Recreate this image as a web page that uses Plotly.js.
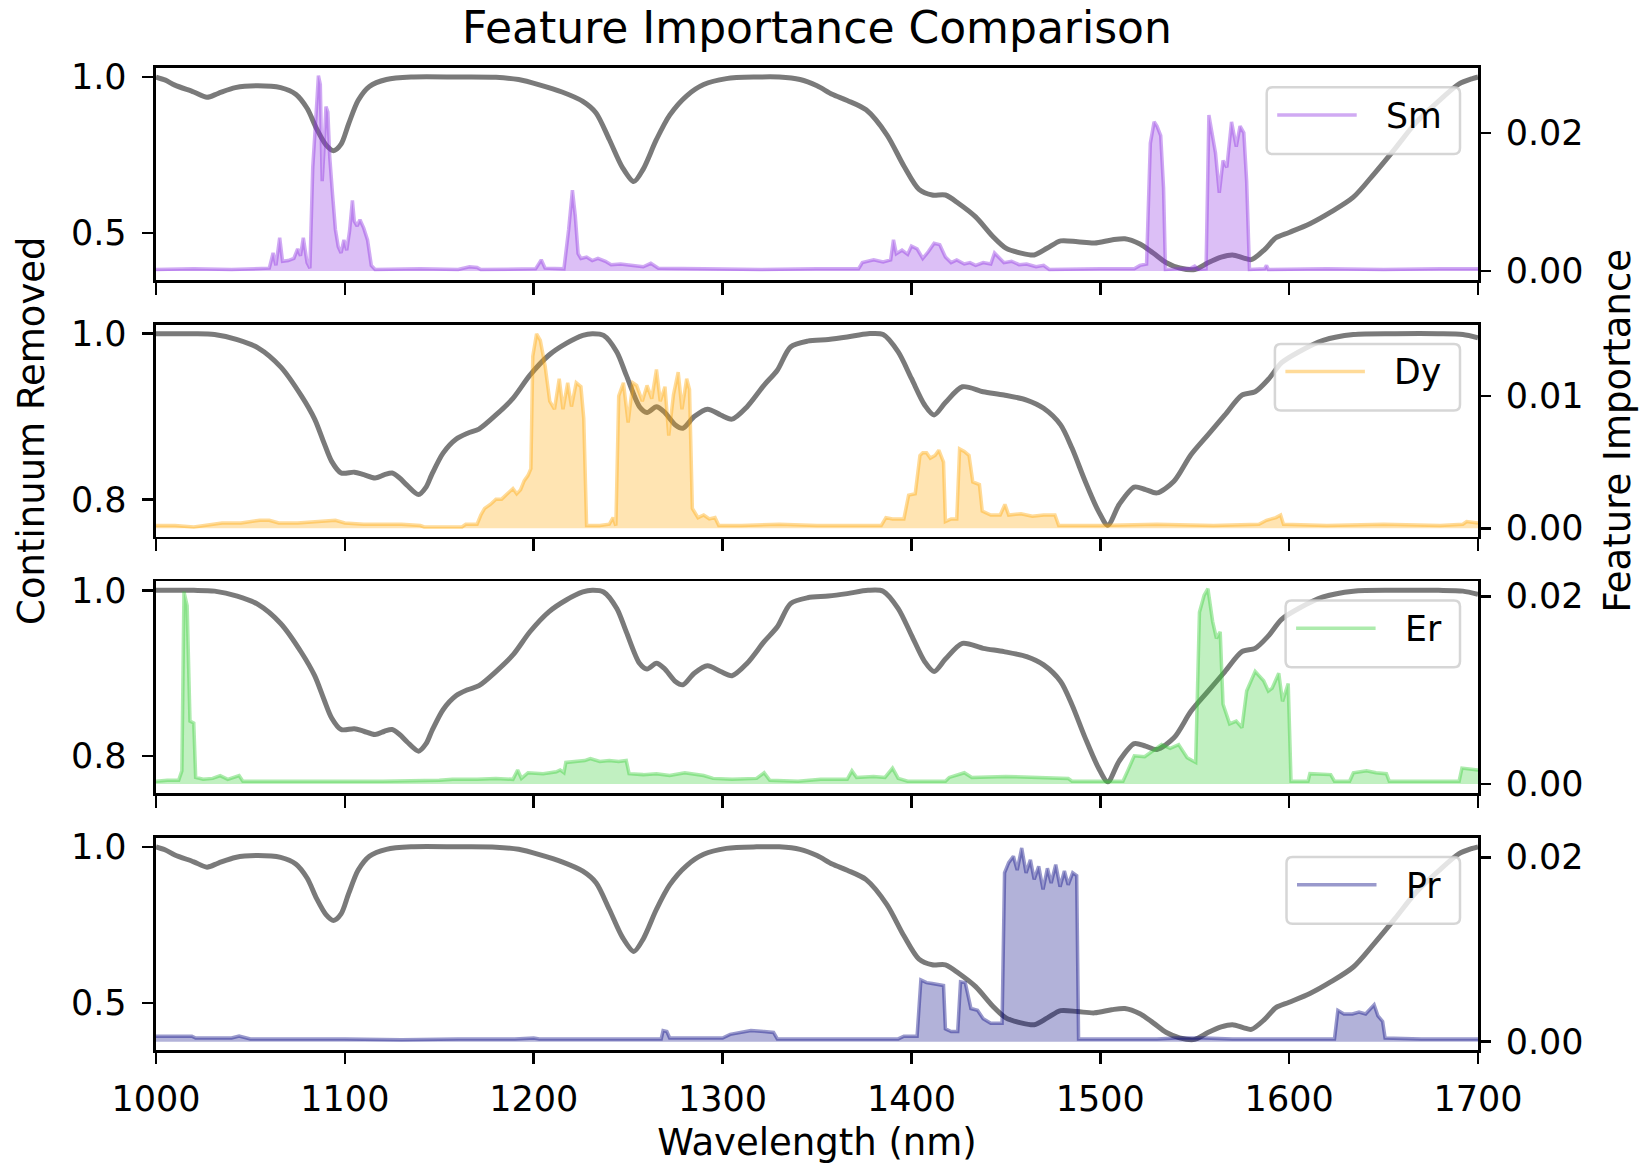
<!DOCTYPE html>
<html>
<head>
<meta charset="utf-8">
<script src="https://cdn.plot.ly/plotly-3.0.1.min.js"></script>
<style>html,body{margin:0;padding:0;background:#fff}#chart{width:1642px;height:1164px}</style>
</head>
<body>
<div id="chart"></div>
<script>
// ---------------- data ----------------
const elements = ['Sm', 'Dy', 'Er', 'Pr'];
const wavelengthTicks = [1000, 1100, 1200, 1300, 1400, 1500, 1600, 1700];

// continuum-removed reference spectrum used with Sm and Pr
const contAWave = [1000,1005,1010,1020,1027,1033,1042,1054,1066,1074,1080,1085,1090,1094,1098,1102,1107,1113,1122,1135,1160,1180,1192,1203,1215,1226,1233,1240,1247,1253,1258,1265,1272,1281,1290,1302,1318,1330,1341,1350,1358,1366,1376,1387,1396,1404,1411,1418,1425,1434,1443,1450,1458,1465,1472,1479,1488,1497,1506,1513,1521,1528,1535,1542,1550,1557,1564,1570,1576,1580,1587,1593,1600,1611,1622,1634,1645,1656,1667,1679,1690,1697,1700];
const contAValue = [1.000,0.990,0.974,0.952,0.935,0.948,0.966,0.972,0.966,0.945,0.900,0.835,0.783,0.764,0.785,0.850,0.925,0.970,0.992,1.000,1.000,0.999,0.992,0.975,0.952,0.922,0.885,0.800,0.710,0.665,0.705,0.800,0.878,0.940,0.976,0.995,1.000,1.000,0.992,0.972,0.945,0.925,0.895,0.815,0.715,0.640,0.622,0.622,0.595,0.552,0.490,0.452,0.436,0.430,0.452,0.475,0.472,0.468,0.478,0.482,0.465,0.436,0.405,0.388,0.383,0.405,0.423,0.430,0.420,0.415,0.447,0.485,0.502,0.530,0.567,0.615,0.690,0.770,0.853,0.922,0.978,0.995,1.000];

// continuum-removed reference spectrum used with Dy and Er
const contBWave = [1000,1020,1031,1043,1054,1066,1077,1084,1089,1093,1098,1105,1110,1116,1121,1125,1129,1133,1139,1143,1146,1152,1159,1165,1171,1180,1189,1198,1208,1217,1226,1231,1237,1244,1249,1256,1260,1265,1269,1275,1279,1285,1292,1299,1305,1313,1322,1329,1336,1345,1356,1366,1377,1385,1393,1400,1407,1412,1418,1427,1438,1449,1461,1470,1479,1485,1492,1499,1504,1510,1518,1524,1530,1539,1548,1557,1566,1575,1582,1589,1596,1605,1618,1634,1656,1679,1692,1700];
const contBValue = [1.000,1.000,0.999,0.993,0.983,0.960,0.925,0.897,0.868,0.846,0.832,0.833,0.830,0.826,0.830,0.832,0.826,0.817,0.806,0.815,0.830,0.856,0.873,0.880,0.885,0.902,0.922,0.950,0.974,0.988,0.998,1.000,0.998,0.978,0.950,0.912,0.905,0.912,0.906,0.890,0.886,0.900,0.909,0.902,0.897,0.912,0.938,0.956,0.984,0.991,0.993,0.996,1.000,0.999,0.978,0.946,0.914,0.902,0.917,0.936,0.930,0.926,0.920,0.910,0.890,0.862,0.822,0.786,0.769,0.794,0.815,0.812,0.808,0.822,0.854,0.878,0.902,0.926,0.930,0.945,0.965,0.978,0.992,0.999,1.000,1.000,0.999,0.995];

// feature importance per element
const smWave = [1000,1020,1040,1055,1060,1062,1063.5,1065.5,1067,1070,1073,1075,1076.5,1078,1080,1081.5,1083,1084.5,1086,1087,1088,1089,1090,1091,1092,1093.5,1095,1096.5,1098,1099.5,1101,1102.5,1104,1105,1106.5,1108,1110,1112,1114,1116,1140,1160,1166,1170,1172,1201,1204,1206,1216,1218.5,1220.5,1222,1223.5,1225,1228,1231,1234,1238,1241,1246,1252,1258,1262,1266,1290,1320,1350,1372,1374,1380,1385,1389,1390.5,1392,1395,1398,1400,1403,1406,1409,1412,1415,1418,1421,1424,1428,1431,1434,1438,1442,1444,1446,1449,1453,1457,1461,1466,1470,1473,1500,1518,1521,1524.5,1526.5,1527.5,1528.5,1530,1532,1533.5,1534.5,1548,1550,1552,1556,1557.5,1559,1561,1563,1565,1567,1569.5,1572,1574,1576,1577.5,1579,1587,1588,1589,1620,1650,1680,1700];
const smImp = [0.0002,0.0003,0.0002,0.0003,0.0004,0.0026,0.0008,0.0048,0.0014,0.0015,0.0018,0.0032,0.0022,0.0048,0.0012,0.0004,0.0150,0.0215,0.0283,0.0270,0.0130,0.0180,0.0238,0.0230,0.0165,0.0110,0.0060,0.0035,0.0026,0.0045,0.0030,0.0058,0.0102,0.0072,0.0065,0.0074,0.0062,0.0045,0.0008,0.0002,0.0003,0.0002,0.0006,0.0005,0.0002,0.0003,0.0016,0.0004,0.0003,0.0060,0.0117,0.0080,0.0025,0.0018,0.0020,0.0015,0.0018,0.0014,0.0009,0.0010,0.0008,0.0006,0.0011,0.0004,0.0003,0.0002,0.0003,0.0003,0.0012,0.0016,0.0013,0.0016,0.0045,0.0025,0.0030,0.0024,0.0036,0.0032,0.0018,0.0028,0.0040,0.0038,0.0020,0.0012,0.0016,0.0010,0.0012,0.0008,0.0012,0.0010,0.0026,0.0020,0.0012,0.0014,0.0009,0.0010,0.0006,0.0008,0.0002,0.0003,0.0003,0.0008,0.0010,0.0185,0.0200,0.0216,0.0210,0.0196,0.0120,0.0002,0.0004,0.0007,0.0002,0.0003,0.0226,0.0200,0.0171,0.0113,0.0160,0.0150,0.0216,0.0180,0.0210,0.0200,0.0130,0.0002,0.0003,0.0008,0.0002,0.0003,0.0002,0.0003,0.0003];

const dyWave = [1000,1010,1020,1030,1035,1045,1055,1060,1065,1075,1085,1095,1100,1110,1120,1130,1140,1142,1162,1164,1170,1172,1174,1177,1180,1183,1186,1189,1191,1193,1195,1197,1198.5,1199.5,1201.5,1203.5,1206,1208.5,1211,1213.5,1215.5,1218,1220,1222.5,1225,1226.5,1228,1235,1240,1242,1243.5,1245,1247.5,1250,1252.5,1254.5,1257.5,1260,1262.5,1265,1267,1269.5,1271.5,1274,1276.5,1278.5,1281,1282.5,1284,1287,1290,1293,1296,1298,1310,1330,1350,1370,1384,1386.5,1390,1396,1398.5,1402,1404.5,1406,1408,1410,1412.5,1414.5,1417,1418,1421,1424,1425.5,1428,1430.5,1432.5,1436,1437.5,1442,1447,1449.5,1451.5,1458,1464,1470,1476,1478,1500,1530,1560,1584,1588,1593,1595.5,1597,1620,1650,1680,1692,1694,1700];
const dyImp = [0.0002,0.0002,0.0001,0.0003,0.0004,0.0004,0.0006,0.0006,0.0004,0.0004,0.0005,0.0006,0.0004,0.0003,0.0003,0.0003,0.0002,0.0001,0.0001,0.0003,0.0003,0.0010,0.0015,0.0018,0.0022,0.0022,0.0026,0.0030,0.0026,0.0029,0.0036,0.0040,0.0045,0.0130,0.0147,0.0142,0.0123,0.0096,0.0090,0.0113,0.0090,0.0110,0.0092,0.0110,0.0107,0.0083,0.0002,0.0002,0.0003,0.0008,0.0002,0.0100,0.0110,0.0080,0.0110,0.0108,0.0096,0.0108,0.0098,0.0120,0.0096,0.0107,0.0070,0.0101,0.0118,0.0090,0.0113,0.0105,0.0015,0.0008,0.0010,0.0007,0.0008,0.0002,0.0002,0.0003,0.0002,0.0002,0.0002,0.0008,0.0007,0.0007,0.0025,0.0026,0.0055,0.0057,0.0057,0.0053,0.0055,0.0059,0.0050,0.0005,0.0007,0.0007,0.0060,0.0058,0.0055,0.0035,0.0033,0.0013,0.0010,0.0010,0.0018,0.0010,0.0011,0.0009,0.0010,0.0010,0.0002,0.0002,0.0003,0.0002,0.0003,0.0006,0.0008,0.0010,0.0003,0.0002,0.0003,0.0002,0.0003,0.0005,0.0004];

const erWave = [1000,1006,1012,1013.7,1014.8,1016.5,1018,1020,1021,1025,1030,1034,1038,1044,1046,1080,1120,1150,1157,1170,1180,1189,1191.5,1193.5,1197,1205,1212,1214,1216,1217,1222,1227,1230,1235,1240,1245,1249,1250.5,1258,1265,1272,1280,1290,1295,1305,1318,1322,1325,1340,1352,1366,1368.5,1371,1380,1386,1390,1393,1398,1418,1420,1428,1432,1450,1465,1483,1485,1512,1514.5,1518,1523.5,1528,1532.5,1537,1541.5,1546,1550.5,1552.5,1555,1557,1559.5,1561.5,1563.5,1565,1568.5,1572,1575,1577.5,1582,1586.5,1589,1591,1594.5,1596.5,1599.5,1601,1610,1611,1622,1624,1632,1634,1641,1646,1651.5,1653,1690,1691.5,1700];
const erImp = [0.0003,0.0004,0.0004,0.0014,0.0205,0.0190,0.0067,0.0065,0.0007,0.0005,0.0006,0.0009,0.0005,0.0009,0.0003,0.0003,0.0003,0.0004,0.0005,0.0005,0.0006,0.0005,0.0015,0.0006,0.0012,0.0011,0.0013,0.0015,0.0012,0.0023,0.0024,0.0025,0.0027,0.0024,0.0025,0.0024,0.0025,0.0011,0.0010,0.0011,0.0009,0.0012,0.0009,0.0006,0.0005,0.0006,0.0012,0.0004,0.0003,0.0005,0.0005,0.0014,0.0007,0.0008,0.0007,0.0017,0.0006,0.0003,0.0003,0.0007,0.0012,0.0007,0.0008,0.0007,0.0006,0.0003,0.0003,0.0014,0.0030,0.0029,0.0035,0.0042,0.0038,0.0042,0.0028,0.0023,0.0183,0.0201,0.0208,0.0173,0.0155,0.0162,0.0085,0.0064,0.0067,0.0060,0.0099,0.0120,0.0110,0.0099,0.0102,0.0118,0.0088,0.0107,0.0003,0.0003,0.0011,0.0010,0.0003,0.0003,0.0012,0.0014,0.0012,0.0011,0.0003,0.0003,0.0017,0.0015];

const prWave = [1000,1010,1019,1021,1030,1040,1044,1048,1050,1100,1130,1160,1190,1200,1203,1240,1267.5,1268.5,1270.5,1272,1300,1304,1310,1315,1322,1327,1329,1360,1393,1396,1403,1405,1408,1411,1414.5,1417,1418,1421,1424.5,1426,1428.5,1431.5,1435,1438,1442,1448,1449.3,1451.5,1454,1456,1458.4,1460.7,1463,1465,1467.4,1469.7,1472,1474,1476.4,1478.7,1481,1483,1485.4,1487.5,1488.5,1500,1530,1540,1555,1570,1600,1624,1625.8,1629,1633.5,1637,1640.5,1645,1647,1649.5,1650.8,1670,1700];
const prImp = [0.0006,0.0006,0.0006,0.0004,0.0004,0.0004,0.0006,0.0004,0.0003,0.0003,0.0002,0.0003,0.0003,0.0004,0.0003,0.0003,0.0003,0.0012,0.0011,0.0004,0.0004,0.0008,0.0010,0.0012,0.0011,0.0010,0.0003,0.0003,0.0003,0.0006,0.0006,0.0067,0.0064,0.0063,0.0062,0.0061,0.0014,0.0011,0.0011,0.0065,0.0064,0.0036,0.0034,0.0025,0.0020,0.0020,0.0183,0.0194,0.0201,0.0186,0.0210,0.0183,0.0197,0.0176,0.0190,0.0165,0.0188,0.0172,0.0192,0.0168,0.0185,0.0170,0.0183,0.0180,0.0003,0.0003,0.0003,0.0004,0.0004,0.0003,0.0003,0.0003,0.0034,0.0030,0.0030,0.0032,0.0030,0.0040,0.0028,0.0022,0.0004,0.0003,0.0003];

// ---------------- styling / layout ----------------
const W = 1642, H = 1164, ML = 156, MR = 164, MT = 68, MB = 113.6;
const PW = W - ML - MR, PH = H - MT - MB;
const px2x = p => (p - ML) / PW;
const py2y = p => (H - MB - p) / PH;
const panelTops = [68, 324.7, 581.4, 838.1];
const panelH = 212.3;
const FONT = 'DejaVu Sans, Liberation Sans, sans-serif';
const FS = 35;      // tick labels
const FSA = 37;     // axis titles
const FSL = 34.7;   // legend labels

const panels = [
  {wave: smWave, imp: smImp, cw: contAWave, cv: contAValue, rgb: '138,43,226', lrange: [0.349, 1.029], ltick: [0.5, 1.0], rrange: [-0.00135, 0.0294], rtick: [0, 0.02]},
  {wave: dyWave, imp: dyImp, cw: contBWave, cv: contBValue, rgb: '255,165,0', lrange: [0.755, 1.011], ltick: [0.8, 1.0], rrange: [-0.00065, 0.0154], rtick: [0, 0.01]},
  {wave: erWave, imp: erImp, cw: contBWave, cv: contBValue, rgb: '50,205,50', lrange: [0.755, 1.011], ltick: [0.8, 1.0], rrange: [-0.001, 0.0216], rtick: [0, 0.02]},
  {wave: prWave, imp: prImp, cw: contAWave, cv: contAValue, rgb: '0,0,128', lrange: [0.349, 1.029], ltick: [0.5, 1.0], rrange: [-0.0009, 0.0221], rtick: [0, 0.02]}
];
const textW = {Sm: 53.6, Dy: 45.4, Er: 34.7, Pr: 33.8};

const traces = [];
const layout = {
  width: W, height: H,
  margin: {l: ML, r: MR, t: MT, b: MB, pad: 0},
  paper_bgcolor: '#fff', plot_bgcolor: 'rgba(0,0,0,0)',
  showlegend: false,
  font: {family: FONT, size: FS, color: '#000'},
  title: {text: 'Feature Importance Comparison', font: {family: FONT, size: 44, color: '#000'},
          x: 817 / W, xanchor: 'center', xref: 'container', y: 1 - 28 / H, yanchor: 'middle', yref: 'container'},
  shapes: [], annotations: []
};

const tickCommon = {ticks: 'outside', ticklen: 11.7, tickwidth: 2.67, tickcolor: '#000',
  showgrid: false, zeroline: false, tickfont: {family: FONT, size: FS, color: '#000'}, automargin: false};

panels.forEach((p, i) => {
  const n = i + 1;
  const xid = n === 1 ? 'x' : 'x' + n;
  const yl = 2 * i + 1, yr = 2 * i + 2;
  const ylid = yl === 1 ? 'y' : 'y' + yl;
  const yrid = 'y' + yr;
  const top = panelTops[i];
  const dom = [Math.max(0, py2y(top + panelH)), Math.min(1, py2y(top))];

  traces.push({x: p.cw, y: p.cv, xaxis: xid, yaxis: ylid, type: 'scatter', mode: 'lines',
    line: {color: 'rgba(0,0,0,0.52)', width: 5, shape: 'spline', smoothing: 0.8}, hoverinfo: 'skip'});
  traces.push({x: p.wave, y: p.imp, xaxis: xid, yaxis: yrid, type: 'scatter', mode: 'lines',
    name: elements[i], fill: 'tozeroy', fillcolor: 'rgba(' + p.rgb + ',0.3)',
    line: {color: 'rgba(' + p.rgb + ',0.4)', width: 3.5}, hoverinfo: 'skip'});

  layout[n === 1 ? 'xaxis' : 'xaxis' + n] = Object.assign({}, tickCommon, {
    domain: [0, 1], anchor: ylid, range: [1000, 1700], tickvals: wavelengthTicks,
    ticktext: wavelengthTicks.map(String), showticklabels: n === 4,
    showline: true, linecolor: '#000', linewidth: 2.67, mirror: true, ticklabelstandoff: 5,
    matches: n === 1 ? undefined : 'x',
    title: n === 4 ? {text: 'Wavelength (nm)', font: {family: FONT, size: FSA, color: '#000'}, standoff: 17} : undefined
  });
  layout[yl === 1 ? 'yaxis' : 'yaxis' + yl] = Object.assign({}, tickCommon, {
    domain: dom, anchor: xid, range: p.lrange, tickvals: p.ltick, tickformat: '.1f',
    showline: true, linecolor: '#000', linewidth: 2.67, mirror: true, ticklabelstandoff: 8,
    title: n === 2 ? {text: 'Continuum Removed', font: {family: FONT, size: FSA, color: '#000'}, standoff: 15} : undefined
  });
  layout['yaxis' + yr] = Object.assign({}, tickCommon, {
    overlaying: ylid, side: 'right', anchor: xid, range: p.rrange, tickvals: p.rtick, tickformat: '.2f',
    showline: false, ticklabelstandoff: 8,
    title: n === 2 ? {text: 'Feature Importance', font: {family: FONT, size: FSA, color: '#000'}, standoff: 21} : undefined
  });

  // legend box (upper right), drawn as a rounded frame with a line sample and the label
  const el = elements[i];
  const right = 1460, bw = 139.7 + textW[el];
  const left = right - bw, bTop = top + 19.3, bBot = top + 86;
  const r = 6;
  const X = px2x, Y = py2y;
  const path = `M ${X(left + r)},${Y(bTop)} L ${X(right - r)},${Y(bTop)} Q ${X(right)},${Y(bTop)} ${X(right)},${Y(bTop + r)} ` +
    `L ${X(right)},${Y(bBot - r)} Q ${X(right)},${Y(bBot)} ${X(right - r)},${Y(bBot)} L ${X(left + r)},${Y(bBot)} ` +
    `Q ${X(left)},${Y(bBot)} ${X(left)},${Y(bBot - r)} L ${X(left)},${Y(bTop + r)} Q ${X(left)},${Y(bTop)} ${X(left + r)},${Y(bTop)} Z`;
  layout.shapes.push({type: 'path', xref: 'paper', yref: 'paper', path: path, layer: 'above',
    fillcolor: 'rgba(255,255,255,0.8)', line: {color: 'rgba(204,204,204,0.8)', width: 2.5}});
  const ly = top + 47;
  layout.shapes.push({type: 'line', xref: 'paper', yref: 'paper', layer: 'above',
    x0: X(left + 10.5), x1: X(left + 90), y0: Y(ly), y1: Y(ly),
    line: {color: 'rgba(' + p.rgb + ',0.4)', width: 3.5}});
  layout.annotations.push({xref: 'paper', yref: 'paper', x: X(left + 117), y: Y(top + 47.8),
    xanchor: 'left', yanchor: 'middle', text: el, showarrow: false,
    font: {family: FONT, size: FSL, color: '#000'}});
});

Plotly.newPlot('chart', traces, layout, {staticPlot: true, displayModeBar: false});
</script>
</body>
</html>
